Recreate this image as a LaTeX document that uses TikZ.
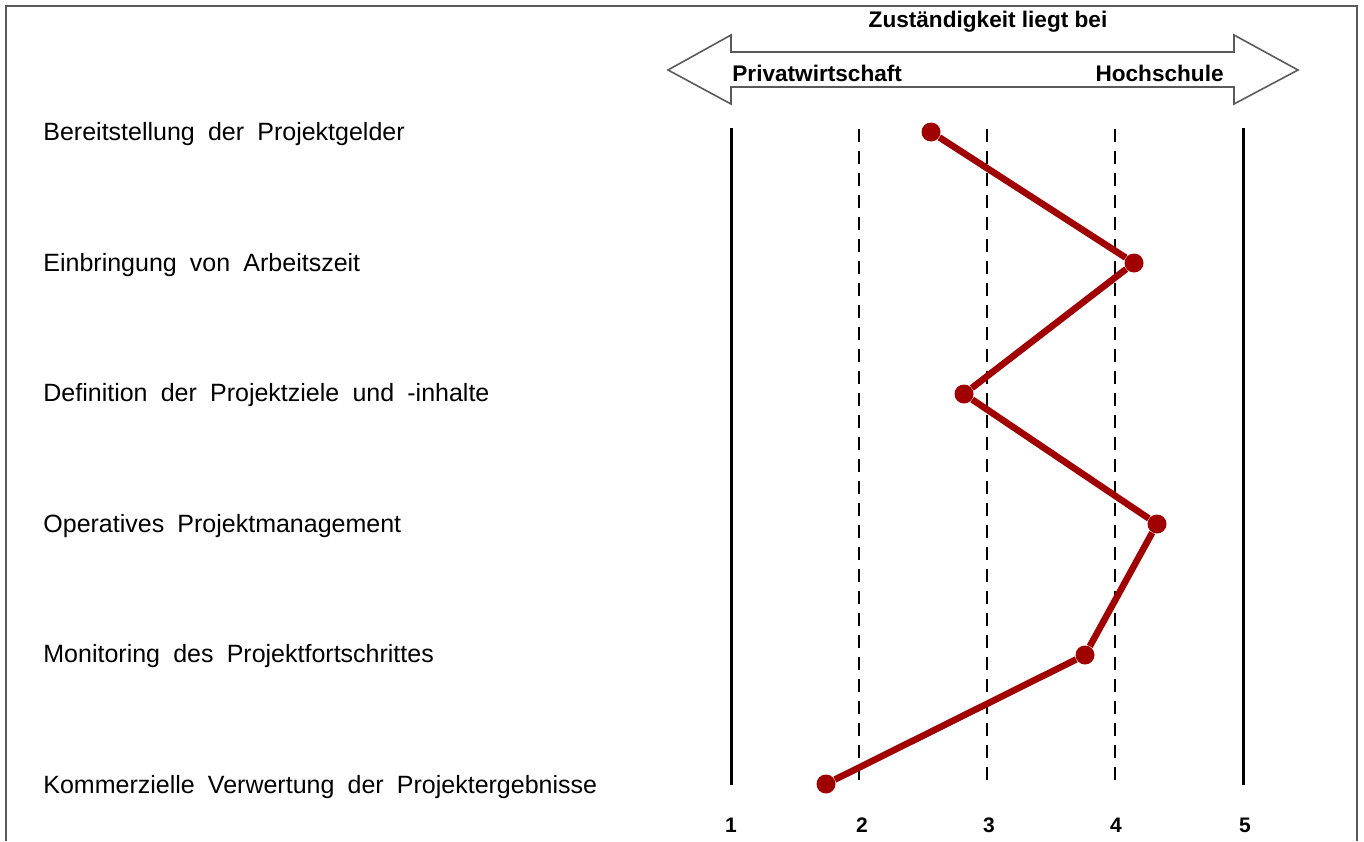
\documentclass[tikz,border=0pt]{standalone}
\usepackage{fontspec}
\setmainfont[WordSpace=1.9]{Liberation Sans}
\newfontfamily\headfont{Liberation Sans}
\usepackage{xcolor}
\usepackage{tikz}
\definecolor{datared}{RGB}{160,0,0}
\definecolor{framegray}{RGB}{90,90,90}

\begin{document}
\begin{tikzpicture}[x=0.5pt, y=-0.5pt,
    rowlabel/.style={anchor=west, inner sep=0pt, font=\fontsize{12.5}{15}\selectfont},
    headlabel/.style={inner sep=0pt, font=\headfont\bfseries\fontsize{11.3}{13}\selectfont},
    scalelabel/.style={inner sep=0pt, font=\headfont\bfseries\fontsize{10.5}{12}\selectfont},
    solidline/.style={line width=1.5pt},
    dashline/.style={line width=1.35pt, dash pattern=on 6.3pt off 4.7pt},
    datadot/.style={circle, fill=datared, inner sep=0pt, minimum size=9.5pt},
    dataline/.style={datared, line width=3.3pt}]
        \useasboundingbox (0,0) rectangle (1364,841);
        % Frame
        \draw[framegray, line width=0.9pt] (6,841) -- (6,6) -- (1357,6) -- (1357,841);

        % Double arrow on top
        \node[headlabel] (title) at (988,22) {Zuständigkeit liegt bei};
        \draw[framegray, line width=0.8pt] (668,70) -- (731,35) -- (731,52) -- (1234,52) -- (1234,35)
            -- (1298,70) -- (1234,104) -- (1234,87) -- (731,87) -- (731,104) -- cycle;
        \node[headlabel, anchor=west] (priv) at (732,73) {Privatwirtschaft};
        \node[headlabel, anchor=east] (hoch) at (1224,73) {Hochschule};

        % Scale lines
        \draw[solidline] (731,128) -- (731,785);
        \draw[dashline] (859,129) -- (859,785);
        \draw[dashline] (987,129) -- (987,785);
        \draw[dashline] (1115,129) -- (1115,785);
        \draw[solidline] (1243,128) -- (1243,785);

        % Scale numbers
        \node[scalelabel] (s1) at (731,825) {1};
        \node[scalelabel] (s2) at (862,825) {2};
        \node[scalelabel] (s3) at (989,825) {3};
        \node[scalelabel] (s4) at (1116,825) {4};
        \node[scalelabel] (s5) at (1245,825) {5};

        % Items
        \node[rowlabel] (r1) at (43,134) {Bereitstellung der Projektgelder};
        \node[rowlabel] (r2) at (43,265) {Einbringung von Arbeitszeit};
        \node[rowlabel] (r3) at (43,395) {Definition der Projektziele und -inhalte};
        \node[rowlabel] (r4) at (43,526) {Operatives Projektmanagement};
        \node[rowlabel] (r5) at (43,656) {Monitoring des Projektfortschrittes};
        \node[rowlabel] (r6) at (43,787) {Kommerzielle Verwertung der Projektergebnisse};

        % Values
        \node[datadot] (p1) at (931,132) {};
        \node[datadot] (p2) at (1134,263) {};
        \node[datadot] (p3) at (964,394) {};
        \node[datadot] (p4) at (1157,524) {};
        \node[datadot] (p5) at (1085,655) {};
        \node[datadot] (p6) at (826,784) {};

        \draw[dataline] (p1) -- (p2) -- (p3) -- (p4) -- (p5) -- (p6);
    \end{tikzpicture}
\end{document}
